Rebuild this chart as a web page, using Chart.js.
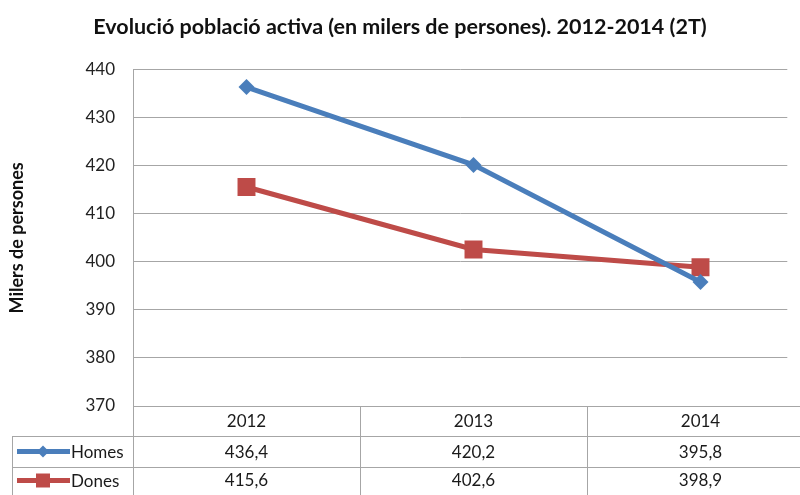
<!DOCTYPE html>
<html>
<head>
<meta charset="utf-8">
<script src="https://cdn.jsdelivr.net/npm/chart.js@4/dist/chart.umd.min.js"></script>
<style>
  html, body { margin: 0; padding: 0; background: #fff; overflow: hidden; }
  #wrap { width: 800px; height: 495px; position: relative; }
</style>
</head>
<body>
<div id="wrap"><canvas id="grafik"></canvas></div>
<script>
// dades
const anys = ['2012', '2013', '2014']
const homes = [436.4, 420.2, 395.8]
const dones = [415.6, 402.6, 398.9]
const homesText = ['436,4', '420,2', '395,8']
const donesText = ['415,6', '402,6', '398,9']

const blau = '#4a7ebb'
const vermell = '#be4b48'
const gris = '#a6a6a6'
const font = 'Lato, "Open Sans", sans-serif'

// el grafic original queda tallat per la dreta: la darrera columna continua fora de la imatge
const ampleEixX = 681

const allargaEix = {
    id: 'allargaEix',
    afterLayout(chart) {
        const xs = chart.scales.x
        xs.right = xs.left + ampleEixX
        xs.width = ampleEixX
        xs.configure()
    }
}

// taula de dades sota el grafic
const taulaPlugin = {
    id: 'taula',
    afterDraw(chart) {
        const ctx = chart.ctx
        const xs = chart.scales.x
        const ys = chart.scales.y
        const meitat = (xs.getPixelForValue(1) - xs.getPixelForValue(0)) / 2
        const esq = ys.right
        const dreta = chart.width
        const dalt = ys.bottom
        const fila = [dalt, dalt + 30, dalt + 61, dalt + 92]

        ctx.save()
        ctx.strokeStyle = gris
        ctx.lineWidth = 1
        ctx.beginPath()
        // linies horitzontals
        ctx.moveTo(esq, fila[0] + 0.5); ctx.lineTo(dreta, fila[0] + 0.5)
        ctx.moveTo(12, fila[1] + 0.5); ctx.lineTo(dreta, fila[1] + 0.5)
        ctx.moveTo(12, fila[2] + 0.5); ctx.lineTo(dreta, fila[2] + 0.5)
        // linies verticals
        ctx.moveTo(12.5, fila[1]); ctx.lineTo(12.5, fila[3])
        for (let i = 0; i <= anys.length; i++) {
            const x = Math.round(xs.getPixelForValue(i) - meitat) + 0.5
            ctx.moveTo(x, i == 0 ? ys.top : fila[0]); ctx.lineTo(x, fila[3])
        }
        ctx.stroke()

        ctx.fillStyle = '#1a1a1a'
        ctx.font = '17px ' + font
        ctx.textAlign = 'center'
        ctx.textBaseline = 'middle'
        anys.forEach((a, i) => {
            const x = xs.getPixelForValue(i)
            ctx.fillText(a, x, (fila[0] + fila[1]) / 2 + 1)
            ctx.fillText(homesText[i], x, (fila[1] + fila[2]) / 2 + 1)
            ctx.fillText(donesText[i], x, (fila[2] + fila[3]) / 2 - 2)
        })

        // llegenda dins la taula
        const clau = (yc, color, forma, nom) => {
            ctx.strokeStyle = color
            ctx.fillStyle = color
            ctx.lineWidth = 5
            ctx.beginPath()
            ctx.moveTo(17, yc); ctx.lineTo(70, yc)
            ctx.stroke()
            ctx.beginPath()
            if (forma == 'rombe') {
                ctx.moveTo(43, yc - 6); ctx.lineTo(49, yc); ctx.lineTo(43, yc + 6); ctx.lineTo(37, yc)
            } else {
                ctx.rect(36, yc - 7, 14, 14)
            }
            ctx.fill()
            ctx.fillStyle = '#1a1a1a'
            ctx.textAlign = 'left'
            ctx.fillText(nom, 71, yc + 1)
        }
        clau((fila[1] + fila[2]) / 2, blau, 'rombe', 'Homes')
        clau((fila[2] + fila[3]) / 2 - 2, vermell, 'quadrat', 'Dones')
        ctx.restore()
    }
}

const ctx = document.getElementById('grafik').getContext('2d')
const grafik = new Chart(ctx, {
    type: 'line',
    data: {
        labels: anys,
        datasets: [{
            label: 'Homes',
            data: homes,
            borderColor: blau,
            backgroundColor: blau,
            borderWidth: 5,
            pointStyle: 'rectRot',
            pointRadius: 8,
            pointBorderWidth: 0
        }, {
            label: 'Dones',
            data: dones,
            borderColor: vermell,
            backgroundColor: vermell,
            borderWidth: 5,
            pointStyle: 'rect',
            pointRadius: 12.7,
            pointBorderWidth: 0
        }]
    },
    options: {
        responsive: true,
        maintainAspectRatio: false,
        animation: false,
        layout: { padding: { top: 0, right: 0, bottom: 89, left: 0 } },
        plugins: {
            legend: { display: false },
            tooltip: { enabled: false },
            title: {
                display: true,
                text: 'Evolució població activa (en milers de persones). 2012-2014 (2T)',
                color: '#111',
                font: { family: font, size: 21.5, weight: 'bold' },
                padding: { top: 14, bottom: 30 }
            }
        },
        scales: {
            x: {
                display: false,
                offset: true
            },
            y: {
                min: 370,
                max: 440,
                afterFit(scale) { scale.width = 133 },
                ticks: {
                    stepSize: 10,
                    padding: 18,
                    color: '#222',
                    font: { family: font, size: 17 }
                },
                grid: { color: gris, drawTicks: false },
                border: { color: gris },
                title: {
                    display: true,
                    text: 'Milers de persones',
                    color: '#111',
                    font: { family: font, size: 18, weight: 'bold' },
                    padding: { top: 6, bottom: 0 }
                }
            }
        }
    },
    plugins: [allargaEix, taulaPlugin]
})
</script>
</body>
</html>
